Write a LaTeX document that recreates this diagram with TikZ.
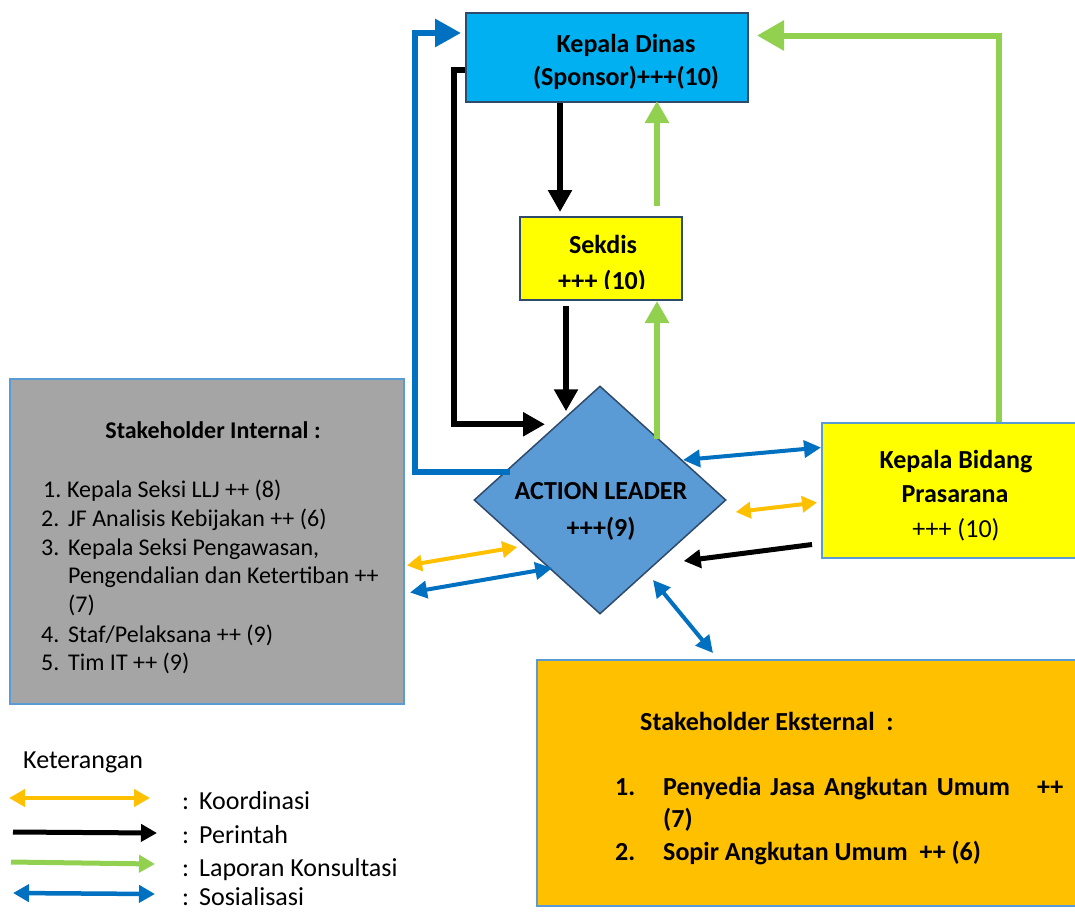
\documentclass[tikz,border=0pt]{standalone}
\usepackage{fontspec}
\setmainfont{Carlito}
\usetikzlibrary{arrows.meta,shapes.geometric,calc}

\definecolor{cyanbox}{HTML}{00B0F0}
\definecolor{edgedark}{HTML}{2F4A6A}
\definecolor{edgelight}{HTML}{5B9BD5}
\definecolor{graybox}{HTML}{A5A5A5}
\definecolor{orangebox}{HTML}{FFC000}
\definecolor{diamondfill}{HTML}{5B9BD5}
\definecolor{koord}{HTML}{FFC000}
\definecolor{lapor}{HTML}{92D050}
\definecolor{sosial}{HTML}{0070C0}
\definecolor{yellowbox}{HTML}{FFFF00}

\tikzset{
  panel/.style={draw, rectangle, inner sep=0pt, line width=2pt},
  titletext/.style={font=\fontsize{26}{31}\selectfont\bfseries, anchor=base, inner sep=0pt},
  plaintext/.style={font=\fontsize{26}{31}\selectfont, anchor=base, inner sep=0pt},
  boldleft/.style={font=\fontsize{26}{31}\selectfont\bfseries, anchor=base west, inner sep=0pt},
  listleft/.style={font=\fontsize{24}{29}\selectfont, anchor=base west, inner sep=0pt},
  legendtext/.style={font=\fontsize{26}{31}\selectfont, anchor=base west, inner sep=0pt},
  perintah/.style={draw=black, line width=6.5pt, -{Triangle[length=22pt,width=23pt]}},
  laporan/.style={draw=lapor, line width=6.5pt, -{Triangle[length=22pt,width=23pt]}},
  laporanbig/.style={draw=lapor, line width=6pt, -{Triangle[length=27pt,width=29pt]}},
  sosbig/.style={draw=sosial, line width=6pt, -{Triangle[length=26pt,width=27pt]}},
  koordarrow/.style={draw=koord, line width=4pt, {Triangle[length=15pt,width=16pt]}-{Triangle[length=15pt,width=16pt]}},
  sosarrow/.style={draw=sosial, line width=4pt, {Triangle[length=17pt,width=17pt]}-{Triangle[length=17pt,width=17pt]}},
  perintahsmall/.style={draw=black, line width=5pt, -{Triangle[length=17pt,width=18pt]}},
  legkoord/.style={draw=koord, line width=4.5pt, {Triangle[length=16pt,width=17pt]}-{Triangle[length=16pt,width=17pt]}},
  legperintah/.style={draw=black, line width=5pt, -{Triangle[length=16pt,width=17pt]}},
  leglapor/.style={draw=lapor, line width=5pt, -{Triangle[length=16pt,width=17pt]}},
  legsos/.style={draw=sosial, line width=4.5pt, {Triangle[length=16pt,width=17pt]}-{Triangle[length=16pt,width=17pt]}},
}

\begin{document}
\begin{tikzpicture}[x=1pt,y=-1pt]
\useasboundingbox (0,0) rectangle (1075,914);
\fill[white] (0,0) rectangle (1075,914);

% ---- boxes ----
\node[panel, draw=edgedark, fill=cyanbox, minimum width=282pt, minimum height=89pt] (kd) at (607,57.5) {};
\node[titletext] (kd1) at (626,52) {Kepala Dinas};
\node[titletext] (kd2) at (626,85) {(Sponsor)+++(10)};

\node[panel, draw=edgedark, fill=yellowbox, minimum width=162pt, minimum height=83pt] (sk) at (601,258.5) {};
\node[titletext] (sk1) at (603,253) {Sekdis};
\begin{scope}
  \clip (520,217) rectangle (682,288);
  \node[titletext] (sk2) at (602,289) {+++ (10)};
\end{scope}

\node[diamond, draw=edgedark, fill=diamondfill, line width=1.5pt, minimum width=252pt, minimum height=228pt, inner sep=0pt] (al) at (600,500) {};
\node[titletext] (al1) at (601,499) {ACTION LEADER};
\node[titletext] (al2) at (601,536) {+++(9)};

\node[panel, draw=edgelight, fill=graybox, minimum width=394pt, minimum height=325pt] (si) at (207,541.5) {};
\node[titletext, font=\fontsize{24}{29}\selectfont\bfseries] (sih) at (213,438) {Stakeholder Internal :};
\node[listleft] (si1n) at (43,497) {1.};
\node[listleft] (si1) at (67,497) {Kepala Seksi LLJ ++ (8)};
\node[listleft] (si2n) at (41,526) {2.};
\node[listleft] (si2) at (68,526) {JF Analisis Kebijakan ++ (6)};
\node[listleft] (si3n) at (41,555) {3.};
\node[listleft] (si3) at (68,555) {Kepala Seksi Pengawasan,};
\node[listleft] (si3b) at (68,583) {Pengendalian dan Ketertiban ++};
\node[listleft] (si3c) at (68,612) {(7)};
\node[listleft] (si4n) at (41,642) {4.};
\node[listleft] (si4) at (68,642) {Staf/Pelaksana ++ (9)};
\node[listleft] (si5n) at (41,670) {5.};
\node[listleft] (si5) at (68,670) {Tim IT ++ (9)};

\node[panel, draw=edgelight, fill=yellowbox, minimum width=263pt, minimum height=135pt] (kb) at (953.5,490.5) {};
\node[titletext] (kb1) at (956,468) {Kepala Bidang};
\node[titletext] (kb2) at (955,502) {Prasarana};
\node[plaintext] (kb3) at (956,537) {+++ (10)};

\node[panel, draw=edgelight, fill=orangebox, minimum width=548pt, minimum height=246pt] (se) at (811,783) {};
\node[boldleft] (seh) at (640,730) {Stakeholder Eksternal\ \ :};
\node[boldleft] (se1n) at (615,795) {1.};
\node[boldleft] (se1) at (663,795) {\makebox[400pt][s]{Penyedia Jasa Angkutan Umum\ \ \ ++}};
\node[boldleft] (se1b) at (663,827) {(7)};
\node[boldleft] (se2n) at (615,860) {2.};
\node[boldleft] (se2) at (663,860) {Sopir Angkutan Umum\ \ ++ (6)};

% ---- connectors ----
\draw[sosbig] ($(al.center)+(-90,-28)$) -| ($(kd.west)+(-50,-24.5)$) -- ($(kd.west)+(-4,-24.5)$);
\draw[perintah, line width=6pt] ($(kd.west)+(0,12.5)$) -- ++(-11,0) |- ($(al.north)+(-55,39)$);
\draw[perintah] ($(kd.south)+(-47,0)$) -- ($(sk.north)+(-41,-4)$);
\draw[laporan] ($(sk.north)+(56,-10)$) -- ($(kd.south)+(50,-2)$);
\draw[perintah] ($(sk.south)+(-35,5)$) -- ($(al.north)+(-34,26)$);
\draw[laporan] ($(al.north)+(57,54)$) -- ($(sk.south)+(56,0)$);
\draw[laporanbig] ($(kb.north)+(45.5,0)$) |- ($(kd.east)+(8,-22)$);
\draw[sosarrow] ($(al.center)+(83,-40)$) -- ($(kb.west)+(0,-43)$);
\draw[koordarrow] ($(al.east)+(9,12)$) -- ($(kb.west)+(-4,12)$);
\draw[perintahsmall] ($(kb.west)+(-9,54)$) -- ($(al.east)+(-43,61)$);
\draw[sosarrow] ($(al.center)+(53,80)$) -- ($(se.north)+(-98,-6)$);
\draw[koordarrow] ($(si.east)+(2,24)$) -- ($(al.west)+(44,47)$);
\draw[sosarrow] ($(si.east)+(5,51)$) -- ($(al.west)+(79,68)$);

% ---- legend ----
\node[legendtext] (leg) at (23,768) {Keterangan};
\node[legendtext] (lk) at (182,809) {:\hspace{10pt}Koordinasi};
\node[legendtext] (lp) at (182,843) {:\hspace{10pt}Perintah};
\node[legendtext] (ll) at (182,876) {:\hspace{10pt}Laporan Konsultasi};
\node[legendtext] (ls) at (182,905) {:\hspace{10pt}Sosialisasi};
\coordinate (lka) at (9,798);   \coordinate (lkb) at (150,798);
\coordinate (lpa) at (13,832);  \coordinate (lpb) at (157,833);
\coordinate (lla) at (11,862);  \coordinate (llb) at (155,864);
\coordinate (lsa) at (13,893);  \coordinate (lsb) at (155,894);
\draw[legkoord] (lka) -- (lkb);
\draw[legperintah] (lpa) -- (lpb);
\draw[leglapor] (lla) -- (llb);
\draw[legsos] (lsa) -- (lsb);
\end{tikzpicture}
\end{document}
